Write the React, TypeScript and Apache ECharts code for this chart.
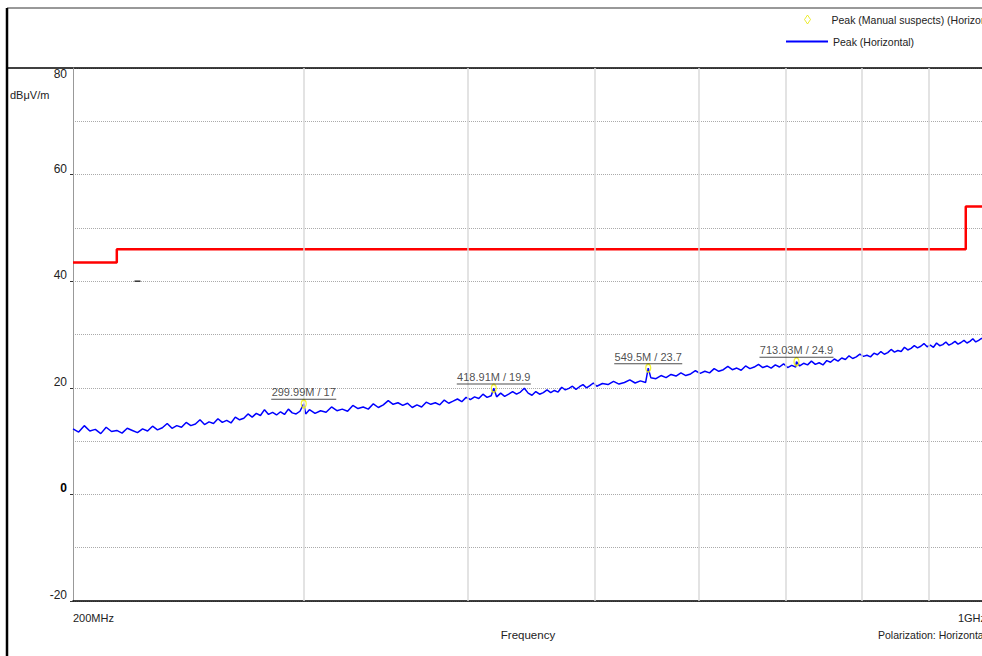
import React, { useEffect, useRef } from "react";
import * as echarts from "echarts";

const FONT = '"Liberation Sans", Arial, sans-serif';

// Limit line (dBμV/m) — frequency in MHz
const LIMIT: [number, number][] = [
  [200, 43.5], [216, 43.5], [216, 46], [960, 46], [960, 54], [1000, 54],
];

// Peak (Horizontal) trace — [MHz, dBμV/m]
const TRACE: [number, number][] = [
  [200, 12.3], [202, 11.7], [204, 12.9], [206, 11.9], [208, 12.2], [210, 11.4], [212, 12.6], [214, 11.8],
  [216, 12.0], [218, 11.5], [220, 12.4], [222, 12.0], [224, 11.6], [226, 12.3], [228, 11.9], [230, 12.8],
  [232, 12.1], [234, 12.5], [236, 13.3], [238, 12.4], [240, 12.9], [242, 12.6], [244, 13.5], [246, 12.9],
  [248, 13.2], [250, 14.0], [252, 13.1], [254, 13.6], [256, 13.3], [258, 14.2], [260, 13.5], [262, 13.9],
  [264, 13.4], [266, 14.5], [268, 14.0], [270, 14.3], [272, 15.1], [274, 14.5], [276, 15.2], [278, 14.8],
  [280, 15.9], [282, 15.0], [284, 15.4], [286, 14.9], [288, 15.5], [290, 15.0], [292, 16.0], [294, 15.3],
  [296, 15.1], [298, 15.6], [299.99, 17.0], [301, 15.1],
  [303, 15.9], [306, 15.2], [309, 15.7], [312, 15.4], [315, 16.4], [318, 15.7], [321, 16.0], [324, 15.6],
  [327, 16.7], [330, 16.1], [333, 16.4], [336, 16.0], [339, 17.0], [342, 16.3], [345, 16.8], [348, 17.6],
  [351, 16.9], [354, 17.2], [357, 16.7], [360, 17.1], [363, 16.3], [366, 16.8], [369, 16.4], [372, 17.3],
  [375, 16.9], [378, 17.2], [381, 16.8], [384, 17.7], [387, 17.1], [390, 17.5], [393, 17.9], [396, 17.4],
  [399, 18.2], [402, 17.8], [405, 18.3], [408, 18.0], [411, 18.8], [414, 18.2], [417, 18.5], [418.91, 19.9],
  [421, 18.3], [424, 19.0], [427, 18.4], [430, 18.8], [433, 19.3], [436, 18.8], [439, 19.2], [442, 19.9],
  [445, 19.0], [448, 18.6], [451, 19.3], [454, 18.8], [457, 19.1], [460, 19.6], [463, 19.1], [466, 19.5],
  [469, 19.2], [472, 20.1], [475, 19.6], [478, 19.9], [481, 20.3], [484, 19.7], [487, 20.2], [490, 20.6],
  [493, 20.0], [496, 20.4], [499, 20.9],
  [502, 20.3], [507, 20.8], [512, 20.6], [517, 21.2], [522, 20.7], [527, 21.0], [532, 21.5], [537, 20.9],
  [542, 21.3], [547, 21.0], [549.5, 23.7], [552, 21.9], [557, 21.7], [562, 22.3], [567, 21.9], [572, 22.5],
  [577, 22.2], [582, 22.8], [587, 22.3], [592, 22.6], [597, 23.2], [602, 22.7], [607, 23.1], [612, 22.8],
  [617, 23.6], [622, 23.1], [627, 23.4], [632, 24.0], [637, 23.4], [642, 23.7], [647, 23.3], [652, 24.1],
  [657, 23.6], [662, 23.9], [667, 24.4], [672, 23.8], [677, 24.1], [682, 23.7], [687, 24.3], [692, 23.9],
  [697, 24.5], [702, 23.8], [707, 24.2], [712, 23.9], [713.03, 24.9], [717, 24.1], [722, 24.6], [727, 24.3],
  [732, 25.0], [737, 24.4], [742, 24.7], [747, 24.3], [752, 25.1], [757, 24.8], [762, 25.4], [767, 25.0],
  [772, 25.6], [777, 25.3], [782, 26.0], [787, 25.5], [792, 25.8], [797, 26.3], [802, 25.9], [807, 26.1],
  [812, 25.8], [817, 26.5], [822, 26.2], [827, 26.8], [832, 26.3], [837, 26.6], [842, 27.2], [847, 26.7],
  [852, 27.0], [857, 26.8], [862, 27.6], [867, 27.1], [872, 27.4], [877, 27.9], [882, 27.5], [887, 27.8],
  [892, 28.3], [897, 27.7], [902, 28.0], [907, 27.6], [912, 28.4], [917, 27.9], [922, 28.1], [927, 28.6],
  [932, 28.0], [937, 28.3], [942, 28.7], [947, 28.2], [952, 28.5], [957, 28.9], [962, 28.4], [967, 28.7],
  [972, 29.2], [977, 28.6], [982, 28.9], [987, 29.3], [992, 28.8], [997, 29.1], [1000, 29.0],
];

// Manual suspect markers
const MARKER_FREQS = [299.99, 418.91, 549.5, 713.03];
const MARKER_VALUES = [17, 19.9, 23.7, 24.9];
const MARKER_LABELS = ["299.99M / 17", "418.91M / 19.9", "549.5M / 23.7", "713.03M / 24.9"];

// Axes
const GRID_FREQS = [300, 400, 500, 600, 700, 800, 900];
const X_TICKS = [200, 1000];
const X_TICK_LABELS = ["200MHz", "1GHz"];
const Y_MIN = -20;
const Y_MAX = 80;
const Y_STEP = 20;

const LEGEND_SUSPECTS = "Peak (Manual suspects) (Horizontal)";
const LEGEND_TRACE = "Peak (Horizontal)";

const W = 1000;
const H = 656;

function textWidth(s: string, size: number) {
  const ctx = document.createElement("canvas").getContext("2d");
  if (!ctx) return s.length * size * 0.5;
  ctx.font = `${size}px ${FONT}`;
  return ctx.measureText(s).width;
}

export default function App() {
  const ref = useRef<HTMLDivElement>(null);

  useEffect(() => {
    if (!ref.current) return;
    const chart = echarts.init(ref.current, null, { renderer: "svg" });

    const rich: any = {
      t: { fontSize: 11, color: "#222", fontFamily: FONT, padding: [0, 0, 1, 0] },
    };
    MARKER_LABELS.forEach((s, i) => {
      rich["u" + i] = { height: 1, width: Math.round(textWidth(s, 11)) + 1, backgroundColor: "#222" };
    });

    const option: any = {
      animation: false,
      backgroundColor: "#ffffff",
      textStyle: { fontFamily: FONT },
      grid: { left: 73, right: 11, top: 68, bottom: 55, containLabel: false },
      legend: [
        {
          orient: "vertical",
          left: 799,
          top: 9,
          itemWidth: 6,
          itemHeight: 9,
          selectedMode: false,
          textStyle: { fontSize: 10.5, color: "#222", fontFamily: FONT, padding: [0, 0, 0, 16] },
          data: [
            {
              name: LEGEND_SUSPECTS,
              icon: "diamond",
              itemStyle: { color: "rgba(255,255,255,0)", borderColor: "#e6e600", borderWidth: 1 },
            },
          ],
        },
        {
          orient: "vertical",
          left: 780,
          top: 31,
          itemWidth: 42,
          itemHeight: 9,
          selectedMode: false,
          textStyle: { fontSize: 10.5, color: "#222", fontFamily: FONT },
          data: [{ name: LEGEND_TRACE, itemStyle: { opacity: 0 } }],
        },
      ],
      xAxis: {
        type: "log",
        logBase: 10,
        min: 200,
        max: 1000,
        axisLine: { show: true, onZero: false, lineStyle: { color: "#000", width: 1.5 } },
        axisTick: { show: false },
        axisLabel: { show: false },
        splitLine: { show: false },
      },
      yAxis: {
        type: "value",
        min: Y_MIN,
        max: Y_MAX,
        interval: Y_STEP,
        axisLine: { show: true, lineStyle: { color: "#999", width: 1 } },
        axisTick: { show: true, length: 3, lineStyle: { color: "#333" } },
        minorTick: { show: false, splitNumber: 2 },
        minorSplitLine: { show: true, lineStyle: { color: "#aaa", type: "dotted", width: 1 } },
        axisLabel: {
          fontSize: 12,
          color: "#222",
          fontFamily: FONT,
          margin: 6,
          verticalAlign: "bottom",
          verticalAlignMaxLabel: "top",
          formatter: (v: number) => (v === 0 ? "{b|0}" : String(v)),
          rich: { b: { fontWeight: "bold", fontSize: 12, fontFamily: FONT, color: "#000" } },
        },
        splitLine: { show: true, lineStyle: { color: "#aaa", type: "dotted", width: 1 } },
      },
      series: [
        {
          name: "grid",
          type: "line",
          data: [],
          z: 1,
          silent: true,
          markLine: {
            silent: true,
            symbol: "none",
            label: { show: false },
            lineStyle: { color: "#dadada", type: "solid", width: 1.5 },
            data: GRID_FREQS.map((f) => ({ xAxis: f })),
          },
        },
        {
          name: "Limit",
          type: "line",
          data: LIMIT,
          symbol: "none",
          z: 4,
          lineStyle: { color: "#ff0000", width: 2.5 },
          itemStyle: { color: "#ff0000" },
        },
        {
          name: LEGEND_TRACE,
          type: "line",
          data: TRACE,
          symbol: "none",
          z: 3,
          lineStyle: { color: "#0000ff", width: 1.5 },
          itemStyle: { color: "#0000ff" },
        },
        {
          name: LEGEND_SUSPECTS,
          type: "scatter",
          z: 5,
          data: MARKER_FREQS.map((f, i) => [f, MARKER_VALUES[i]]),
          symbol: "circle",
          symbolSize: [5, 8],
          itemStyle: { color: "rgba(255,255,255,0)", borderColor: "#f0f000", borderWidth: 1.5 },
          label: {
            show: true,
            position: "top",
            distance: -1,
            formatter: (p: any) => `{t|${MARKER_LABELS[p.dataIndex]}}\n{u${p.dataIndex}|}`,
            rich,
          },
        },
      ],
    };
    chart.setOption(option);

    const px = (f: number, v: number) => chart.convertToPixel({ gridIndex: 0 }, [f, v]) as number[];
    const bottomY = px(200, Y_MIN)[1];
    const topY = px(200, Y_MAX)[1];
    const dash = px(224, 40);

    const graphic: any[] = [
      { type: "line", shape: { x1: 7, y1: 8, x2: W, y2: 8 }, style: { stroke: "#333", lineWidth: 1 } },
      { type: "line", shape: { x1: 7, y1: 8, x2: 7, y2: H }, style: { stroke: "#000", lineWidth: 2.5 } },
      { type: "line", shape: { x1: 7, y1: topY, x2: W, y2: topY }, style: { stroke: "#000", lineWidth: 1.5 } },
      { type: "line", shape: { x1: dash[0] - 3, y1: dash[1], x2: dash[0] + 3, y2: dash[1] }, style: { stroke: "#333", lineWidth: 1.5 } },
      {
        type: "text",
        style: { text: "dBμV/m", x: 10, y: 95, fontSize: 11, fontFamily: FONT, fill: "#222", verticalAlign: "middle" },
      },
      {
        type: "text",
        style: { text: "Frequency", x: 528, y: 635, fontSize: 11.5, fontFamily: FONT, fill: "#222", align: "center", verticalAlign: "middle" },
      },
      {
        type: "text",
        style: { text: "Polarization: Horizontal", x: 878, y: 635, fontSize: 10.5, fontFamily: FONT, fill: "#222", verticalAlign: "middle" },
      },
    ];
    X_TICKS.forEach((f, i) => {
      const p = px(f, Y_MIN);
      graphic.push({
        type: "text",
        style: {
          text: X_TICK_LABELS[i],
          x: i === 0 ? p[0] : p[0] - 3,
          y: bottomY + 17,
          fontSize: 11,
          fontFamily: FONT,
          fill: "#222",
          align: i === 0 ? "left" : "right",
          verticalAlign: "middle",
        },
      });
    });
    chart.setOption({ graphic });

    return () => chart.dispose();
  }, []);

  return (
    <div
      ref={ref}
      style={{ position: "fixed", left: 0, top: 0, width: W, height: H, background: "#fff" }}
    />
  );
}
